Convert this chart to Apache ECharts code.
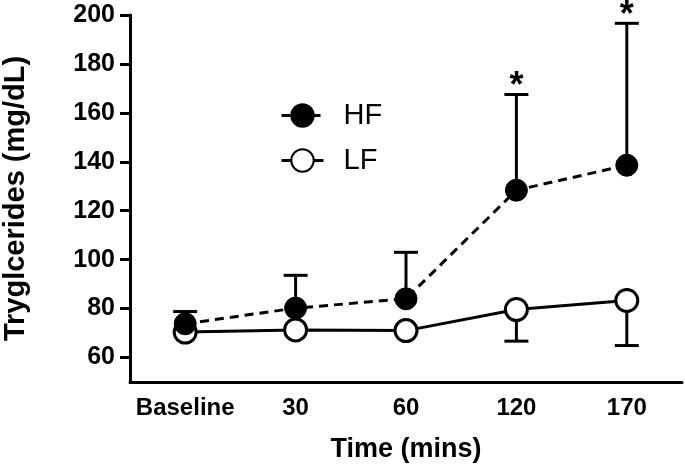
<!DOCTYPE html>
<html><head><meta charset="utf-8">
<script src="https://cdn.jsdelivr.net/npm/echarts@6/dist/echarts.min.js"></script>
<style>html,body{margin:0;padding:0;background:#fff}#c{width:685px;height:467px}</style>
</head><body><div id="c"></div>
<script>
var categories = ['Baseline', '30', '60', '120', '170'];
var hfMean = [73.8, 80.2, 84.0, 128.4, 138.6];
var hfUpper = [78.8, 93.6, 103.0, 167.5, 196.6];
var lfMean = [70.4, 71.3, 71.0, 79.6, 83.3];
var lfLower = [null, null, null, 66.7, 64.9];
var significant = [false, false, false, true, true];
var yTicks = [60, 80, 100, 120, 140, 160, 180, 200];

var FONT = 'Liberation Sans, Arial, Helvetica, sans-serif';
var chart = echarts.init(document.getElementById('c'));

function errRender(barVals, meanVals, sigFlags) {
  return function (params, api) {
    var i = params.dataIndex;
    var end = barVals[i];
    if (end == null) return null;
    var p0 = api.coord([i, meanVals[i]]);
    var p1 = api.coord([i, end]);
    var half = 12;
    var st = { stroke: '#000', lineWidth: 3 };
    var children = [
      { type: 'line', shape: { x1: p0[0], y1: p0[1], x2: p1[0], y2: p1[1] }, style: st },
      { type: 'line', shape: { x1: p1[0] - half, y1: p1[1], x2: p1[0] + half, y2: p1[1] }, style: st }
    ];
    if (sigFlags && sigFlags[i]) {
      children.push({ type: 'text', x: p1[0], y: p1[1] + 11,
        style: { text: '*', fill: '#000', font: 'bold 36px ' + FONT, textAlign: 'center', textVerticalAlign: 'bottom' } });
    }
    return { type: 'group', children: children };
  };
}

chart.setOption({
  animation: false,
  backgroundColor: '#fff',
  grid: { left: 130, right: 3, top: 15, bottom: 85, outerBoundsMode: 'none', containLabel: false },
  legend: {
    orient: 'vertical', left: 275, top: 96, itemWidth: 42, itemHeight: 28, itemGap: 16,
    data: ['HF', 'LF'],
    lineStyle: { width: 3 },
    textStyle: { fontFamily: FONT, fontSize: 29, color: '#000', padding: [0, 0, 0, 15] }
  },
  xAxis: {
    type: 'category', data: categories, boundaryGap: true,
    name: 'Time (mins)', nameLocation: 'middle', nameGap: 54,
    nameTextStyle: { fontFamily: FONT, fontSize: 27, fontWeight: 'bold', color: '#000' },
    axisLine: { lineStyle: { color: '#000', width: 3 } },
    axisTick: { alignWithLabel: true, length: 8, lineStyle: { color: '#000', width: 3 } },
    axisLabel: { interval: 0, fontFamily: FONT, fontSize: 24, fontWeight: 'bold', color: '#000', margin: 14 },
    splitLine: { show: false }
  },
  yAxis: {
    type: 'value', min: 50, max: 200, interval: 10,
    name: 'Tryglcerides (mg/dL)', nameLocation: 'middle', nameGap: 100, nameRotate: 90,
    nameTextStyle: { fontFamily: FONT, fontSize: 29, fontWeight: 'bold', color: '#000' },
    axisLine: { show: true, lineStyle: { color: '#000', width: 3 } },
    axisTick: { show: true, length: 10, customValues: yTicks, lineStyle: { color: '#000', width: 3 } },
    axisLabel: { fontFamily: FONT, fontSize: 25, fontWeight: 'bold', color: '#000', margin: 15, customValues: yTicks },
    splitLine: { show: false }
  },
  series: [
    { name: 'HFerr', type: 'custom', renderItem: errRender(hfUpper, hfMean, significant),
      data: hfMean.map(function (v, i) { return [i, v]; }), z: 1, silent: true },
    { name: 'LFerr', type: 'custom', renderItem: errRender(lfLower, lfMean, null),
      data: lfMean.map(function (v, i) { return [i, v]; }), z: 1, silent: true },
    { name: 'LF', type: 'line', data: lfMean, z: 3,
      symbol: 'circle', symbolSize: 22,
      lineStyle: { color: '#000', width: 3 },
      itemStyle: { color: '#fff', borderColor: '#000', borderWidth: 3 } },
    { name: 'HF', type: 'line', data: hfMean, z: 4,
      symbol: 'circle', symbolSize: 22,
      lineStyle: { color: '#000', width: 3, type: [9, 6] },
      itemStyle: { color: '#000', borderColor: '#000', borderWidth: 1 } }
  ]
});
</script></body></html>
